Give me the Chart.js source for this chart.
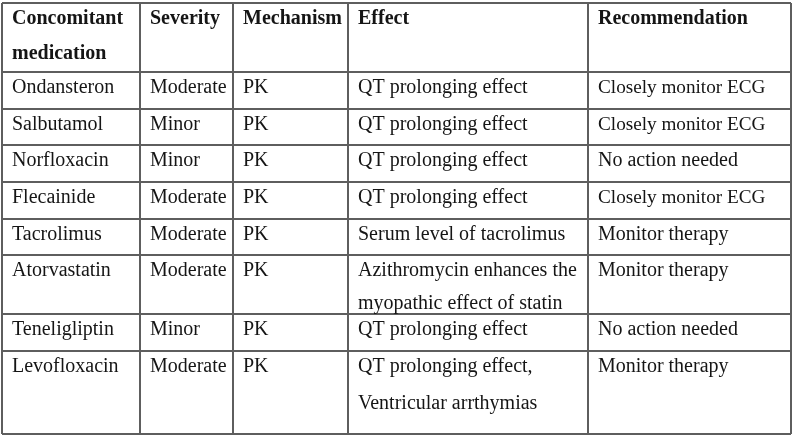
<!DOCTYPE html>
<html>
<head>
<meta charset="utf-8">
<script src="https://cdn.jsdelivr.net/npm/chart.js@4"></script>
<style>
  html, body { margin: 0; padding: 0; background: #fff; }
  canvas { display: block; }
</style>
</head>
<body>
<canvas id="tbl" width="794" height="436"></canvas>
<script>
// ===== dados da tabela =====
const headers = ['Concomitant\nmedication', 'Severity', 'Mechanism', 'Effect', 'Recommendation'];
const medications = ['Ondansteron', 'Salbutamol', 'Norfloxacin', 'Flecainide', 'Tacrolimus', 'Atorvastatin', 'Teneligliptin', 'Levofloxacin'];
const severity = ['Moderate', 'Minor', 'Minor', 'Moderate', 'Moderate', 'Moderate', 'Minor', 'Moderate'];
const mechanism = ['PK', 'PK', 'PK', 'PK', 'PK', 'PK', 'PK', 'PK'];
const effects = [
  'QT prolonging effect',
  'QT prolonging effect',
  'QT prolonging effect',
  'QT prolonging effect',
  'Serum level of tacrolimus',
  'Azithromycin enhances the\nmyopathic effect of statin',
  'QT prolonging effect',
  'QT prolonging effect,\nVentricular arrthymias'
];
const recommendations = ['Closely monitor ECG', 'Closely monitor ECG', 'No action needed', 'Closely monitor ECG', 'Monitor therapy', 'Monitor therapy', 'No action needed', 'Monitor therapy'];

// ===== layout (larguras / alturas em unidades da escala) =====
const colWidths = [138, 93, 115, 240, 203];
const rowHeights = [69, 36.6, 36.6, 36.6, 36.6, 36.6, 58.7, 36.6, 83.2]; // cabeçalho + 8 linhas
const lineGaps  = [35, 35, 35, 35, 35, 35, 33, 35, 37];
const cumsum = arr => arr.reduce((acc, v) => { acc.push(acc[acc.length - 1] + v); return acc; }, [0]);
const colEdges = cumsum(colWidths);
const rowEdges = cumsum(rowHeights);

const FONT = '"Liberation Serif", "Times New Roman", serif';
const LINE = '#5e5e5e';
const smallCells = new Set(['Closely monitor ECG']); // no original essa frase sai um pouco menor

const tableText = {
  id: 'tableText',
  afterDraw(chart) {
    const { ctx, scales: { x, y } } = chart;
    const cols = [medications, severity, mechanism, effects, recommendations];
    const cell = (txt, c, r, bold) => {
      const left = x.getPixelForValue(colEdges[c]) + 10;
      const top = y.getPixelForValue(rowEdges[r]);
      const size = smallCells.has(txt) ? 19.2 : 20;
      ctx.font = `${bold ? 'bold ' : ''}${size}px ${FONT}`;
      txt.split('\n').forEach((ln, i) => ctx.fillText(ln, left, top + 21 + i * lineGaps[r]));
    };
    ctx.save();
    ctx.fillStyle = '#151515';
    ctx.textBaseline = 'alphabetic';
    headers.forEach((h, c) => cell(h, c, 0, true));
    medications.forEach((_, r) => {
      cols.forEach((arr, c) => cell(arr[r], c, r + 1, false));
    });
    ctx.restore();
  }
};

const edgeAxis = (edges, extra) => ({
  type: 'linear',
  min: 0,
  max: edges[edges.length - 1],
  afterBuildTicks: s => { s.ticks = edges.map(v => ({ value: v })); },
  ticks: { display: false },
  grid: { color: LINE, lineWidth: 2, drawTicks: false },
  border: { display: false },
  ...extra
});

new Chart(document.getElementById('tbl'), {
  type: 'scatter',
  data: { datasets: [{ data: [] }] },
  options: {
    responsive: false,
    animation: false,
    layout: { padding: { left: 2, top: 3, right: 3, bottom: 2 } },
    plugins: { legend: { display: false }, tooltip: { enabled: false } },
    scales: {
      x: edgeAxis(colEdges, { position: 'top' }),
      y: edgeAxis(rowEdges, { reverse: true })
    }
  },
  plugins: [tableText]
});
</script>
</body>
</html>
